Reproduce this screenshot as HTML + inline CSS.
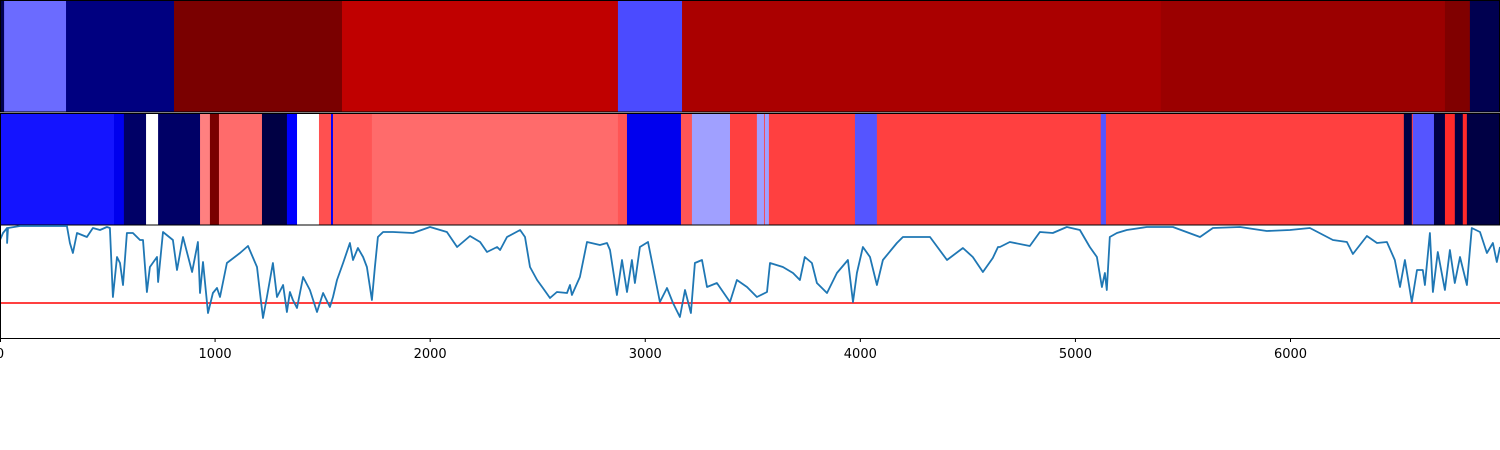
<!DOCTYPE html>
<html><head><meta charset="utf-8"><style>body{margin:0;background:#fff}svg{display:block}</style></head>
<body>
<svg id="chart" width="1500" height="450" xmlns="http://www.w3.org/2000/svg"></svg>
<script>
const topStarts=[0,19,307,809,1590,2873,3171,5397,6718,6834];
const topColors=["#000050","#6b6bff","#000080","#7a0000","#c00000","#4b4bff","#aa0000","#9b0000","#800000","#000050"];
const midStarts=[0,530,576,679,735,930,976,1018,1218,1334,1381,1483,1539,1548,1729,2873,2915,3166,3217,3394,3519,3552,3556,3575,3975,4077,5118,5142,6527,6564,6569,6667,6718,6764,6801,6820];
const midColors=["#1414ff","#0000ee","#000066","#ffffff","#000066","#ff8080","#7a0000","#ff6b6b","#000044","#0000ff","#ffffff","#ff5050","#0000ff","#ff5555","#ff6b6b","#ff5555","#0000ee","#ff5555","#a0a0ff","#ff4040","#a0a0ff","#ff4040","#a0a0ff","#ff4040","#5555ff","#ff4040","#5555ff","#ff4040","#000044","#ff4040","#5555ff","#000044","#ff2a2a","#000044","#ff2a2a","#000044"];
const xMax=6974;
const lineX=[0,14,33,33,37,93,311,325,339,358,404,432,465,497,511,525,544,558,572,590,618,651,665,683,697,730,735,758,804,823,851,893,920,930,944,967,990,1009,1023,1055,1116,1153,1195,1209,1223,1241,1269,1288,1316,1334,1348,1362,1381,1409,1441,1474,1502,1534,1548,1567,1595,1627,1641,1664,1688,1706,1729,1743,1757,1781,1827,1920,1999,2078,2125,2185,2232,2264,2311,
2325,2357,2418,2441,2464,2497,2524,2557,2589,2636,2650,2659,2696,2729,2789,2822,2836,2868,2892,2915,2938,2952,2975,3013,3036,3068,3101,3129,3161,3185,3212,3231,3264,3287,3333,3394,3426,3473,3519,3566,3580,3640,3687,3719,3742,3775,3798,3845,3891,3942,3966,3984,4012,4045,4077,4105,4170,4198,4324,4403,4477,4523,4570,4616,4640,
4649,4695,4788,4835,4895,4960,5021,5067,5100,5123,5137,5146,5160,5193,5239,5332,5453,5579,5639,5765,5890,5997,6090,6197,6262,6290,6355,6402,6448,6485,6509,6532,6564,6588,6615,6625,6648,6662,6685,6718,6741,6764,6788,6820,6843,6881,6913,6941,6959,6974];
const lineY=[98,105,110,95,110,112,112,95,85,105,101,110,108,111,110,41,81,75,53,105,105,98,98,46,71,81,56,106,98,68,101,66,96,45,76,25,45,50,41,75,85,92,71,45,20,41,75,41,53,26,46,38,30,61,48,26,45,31,41,58,75,95,78,90,81,71,38,71,101,106,106,105,111,106,91,102,96,86,91,
88,101,108,101,71,58,50,40,46,45,53,43,61,96,93,95,88,43,78,46,78,55,91,96,71,36,50,35,21,48,25,75,78,51,55,36,58,51,41,46,75,71,65,58,81,75,55,45,65,78,36,65,91,81,53,78,95,101,101,78,90,81,66,80,91,
91,96,92,106,105,111,108,91,81,51,65,48,101,105,108,111,111,101,110,111,107,108,110,98,96,84,102,95,96,78,51,78,36,68,68,53,105,46,86,48,88,55,81,53,110,106,85,95,76,91];
const yMax=113;
const svg=document.getElementById('chart');
const NS='http://www.w3.org/2000/svg';
const W=1500;
const sx=v=>v/xMax*W;
const sy=v=>338-v/yMax*113;
function mk(tag,attrs,parent){const e=document.createElementNS(NS,tag);for(const k in attrs)e.setAttribute(k,attrs[k]);(parent||svg).appendChild(e);return e;}
const gTop=mk('g',{});


topStarts.forEach((s,i)=>{const e=i+1<topStarts.length?topStarts[i+1]:xMax;
const r=mk('rect',{x:sx(s),y:0,width:sx(e)-sx(s)+0.5,height:112,fill:topColors[i]},gTop);

});
const f1=mk('rect',{x:0.5,y:0.5,width:1499,height:111.5,fill:'none',stroke:'#000','stroke-width':1});


const gMid=mk('g',{});


midStarts.forEach((s,i)=>{const e=i+1<midStarts.length?midStarts[i+1]:xMax;
const r=mk('rect',{x:sx(s),y:113,width:sx(e)-sx(s)+0.5,height:112,fill:midColors[i]},gMid);

});
const f2=mk('rect',{x:0.5,y:113.5,width:1499,height:111.5,fill:'none',stroke:'#000','stroke-width':1});


const th=mk('line',{x1:0,x2:1500,y1:sy(35),y2:sy(35),stroke:'#ff0000','stroke-width':1.5});


const pts=lineX.map((x,i)=>sx(x).toFixed(1)+','+sy(lineY[i]).toFixed(1)).join(' ');
const pl=mk('polyline',{points:pts,fill:'none',stroke:'#1f77b4','stroke-width':1.8,'stroke-linejoin':'round'});


const f3=mk('path',{d:'M0.5,225 V338.5 H1500',fill:'none',stroke:'#000','stroke-width':1});


const ticks=[0,1000,2000,3000,4000,5000,6000];
ticks.forEach(t=>{const x=Math.max(sx(t),0.5);
const l=mk('line',{x1:x,x2:x,y1:338,y2:342,stroke:'#000'});


const tx=mk('text',{x:sx(t),y:358,'text-anchor':'middle','font-family':'DejaVu Sans, Liberation Sans, sans-serif','font-size':'13'});
tx.textContent=t;

});
</script>
</body></html>
